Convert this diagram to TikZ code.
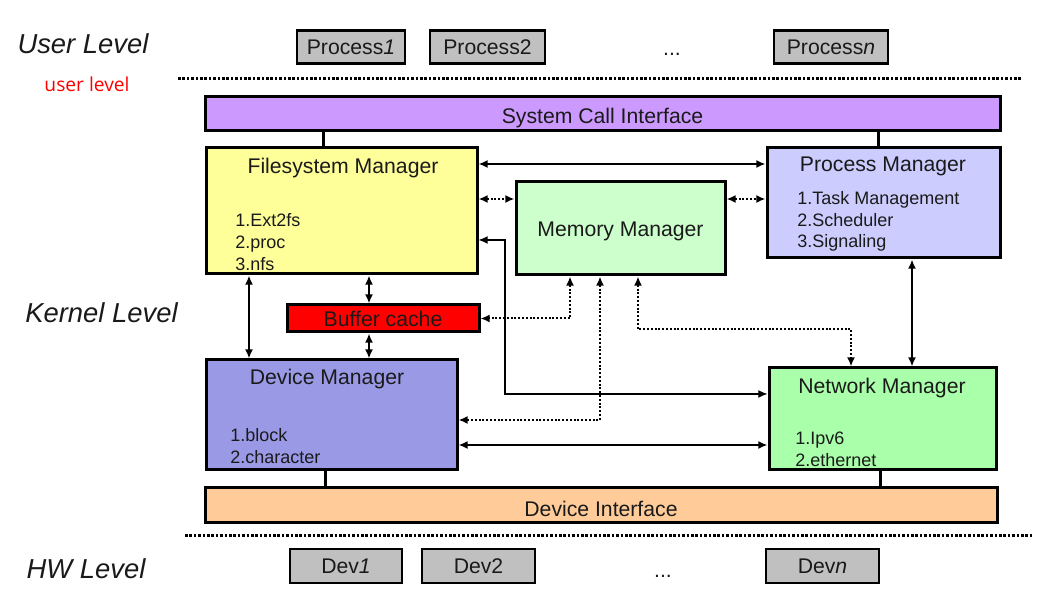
\documentclass[tikz,border=0pt]{standalone}
\usepackage{fontspec}
\setmainfont{Liberation Sans}
\newfontfamily\redfont{Open Sans}
\usetikzlibrary{arrows.meta}
\definecolor{sciC}{HTML}{CC99FF}
\definecolor{fmC}{HTML}{FFFF99}
\definecolor{mmC}{HTML}{CCFFCC}
\definecolor{pmC}{HTML}{CCCCFF}
\definecolor{bcC}{HTML}{FF0000}
\definecolor{dmC}{HTML}{9999E6}
\definecolor{nmC}{HTML}{AAFFAA}
\definecolor{diC}{HTML}{FFCC99}
\definecolor{grayC}{HTML}{C0C0C0}
\definecolor{txtC}{HTML}{1A1A1A}
\begin{document}
\begin{tikzpicture}[x=0.5pt,y=-0.5pt,
  every node/.style={text=txtC},
  box/.style={draw=black, line width=1.5pt, inner sep=0pt, text height=9.2pt, text depth=0pt, font=\fontsize{10.6}{12}\selectfont},
  gbox/.style={box, fill=grayC, line width=1.2pt, minimum height=16.5pt, text height=7.6pt},
  title/.style={font=\fontsize{10.6}{12}\selectfont, inner sep=0pt, yshift=-1.2pt},
  items/.style={font=\fontsize{9}{11}\selectfont, align=left, anchor=west, inner sep=0pt, yshift=-1pt},
  level/.style={font=\fontsize{13.7}{16}\selectfont\itshape, inner sep=0pt},
  bi/.style={{Latex[length=4.6pt,width=4pt]}-{Latex[length=4.6pt,width=4pt]}, line width=0.9pt},
  thinbi/.style={bi, line width=0.6pt},
  dotbi/.style={bi, line width=1pt, dash pattern=on 1pt off 0.9pt},
  sep/.style={line width=1.5pt, dash pattern=on 1.3pt off 0.9pt},
  link/.style={line width=1.5pt}
]
\useasboundingbox (0,0) rectangle (1040,592);

% level labels
\node[level] (ul) at (83,44) {User Level};
\node[font=\redfont\fontsize{9.6}{12}\selectfont, text=red, inner sep=0pt] (ulr) at (87,84) {user level};
\node[level] (kl) at (101.5,313) {Kernel Level};
\node[level] (hl) at (86,569) {HW Level};

% separators
\coordinate (s1a) at (178,79); \coordinate (s1b) at (1022,79);
\coordinate (s2a) at (185,536); \coordinate (s2b) at (1032,536);
\draw[sep] (s1a) -- (s1b);
\draw[sep] (s2a) -- (s2b);

% processes
\node[gbox, minimum width=54pt] (p1) at (351,47) {Process\textit{1}};
\node[gbox, minimum width=57.5pt] (p2) at (487.5,47) {Process2};
\node[title] (pdots) at (672,52) {...};
\node[gbox, minimum width=57pt] (pn) at (831,47) {Process\textit{n}};

% system call interface
\node[box, fill=sciC, minimum width=397.5pt, minimum height=17pt] (sci) at (602.5,114) {System Call Interface};

% filesystem manager
\node[box, fill=fmC, minimum width=135.5pt, minimum height=63pt] (fm) at (341.5,211) {};
\node[title] (fmt) at (343,166) {Filesystem Manager};
\node[items] (fmi) at (235,240) {1.Ext2fs\\2.proc\\3.nfs};

% memory manager
\node[box, fill=mmC, minimum width=104.5pt, minimum height=46.5pt, text height=7.6pt] (mm) at (620.5,228.5) {Memory Manager};

% process manager
\node[box, fill=pmC, minimum width=116.5pt, minimum height=55pt] (pm) at (883.5,203) {};
\node[title] (pmt) at (883,164) {Process Manager};
\node[items, font=\fontsize{9}{10.7}\selectfont] (pmi) at (797,219.5) {1.Task Management\\2.Scheduler\\3.Signaling};

% buffer cache
\node[box, fill=bcC, minimum width=96pt, minimum height=13.5pt, text height=8pt] (bc) at (383,318.5) {Buffer cache};

% device manager
\node[box, fill=dmC, minimum width=125.5pt, minimum height=55pt] (dm) at (331.5,415) {};
\node[title] (dmt) at (327,377) {Device Manager};
\node[items] (dmi) at (230,444) {1.block\\2.character};

% network manager
\node[box, fill=nmC, minimum width=113.5pt, minimum height=51pt] (nm) at (882.5,419) {};
\node[title] (nmt) at (882,386) {Network Manager};
\node[items] (nmi) at (795,447) {1.Ipv6\\2.ethernet};

% device interface
\node[box, fill=diC, minimum width=396pt, minimum height=17.5pt, text height=10.6pt] (di) at (601,505.5) {Device Interface};

% devices
\node[gbox, minimum width=56pt, minimum height=17pt] (d1) at (346,566) {Dev\textit{1}};
\node[gbox, minimum width=56.5pt, minimum height=17pt] (d2) at (478.5,566) {Dev2};
\node[title] (ddots) at (663,574) {...};
\node[gbox, minimum width=56.5pt, minimum height=17pt] (dn) at (822.5,566) {Dev\textit{n}};

% vertical links to interfaces
\coordinate (x323) at (323,0); \coordinate (x878) at (878,0);
\coordinate (x325) at (325,0); \coordinate (x880) at (880,0);
\draw[link] (sci.south -| x323) -- (fm.north -| x323);
\draw[link] (sci.south -| x878) -- (pm.north -| x878);
\draw[link] (dm.south -| x325) -- (di.north -| x325);
\draw[link] (nm.south -| x880) -- (di.north -| x880);

% connectors
\coordinate (y164) at (0,164);
\draw[bi] (fm.east |- y164) -- (pm.west |- y164);
\coordinate (yA) at (0,199);
\draw[dotbi] (fm.east |- yA) -- (mm.west |- yA);
\draw[dotbi] (mm.east |- yA) -- (pm.west |- yA);

\coordinate (yB) at (0,240);
\coordinate (c4) at (505,394);
\draw[thinbi] (fm.east |- yB) -| (c4) -- (nm.west |- c4);

\coordinate (c5) at (600,420);
\draw[dotbi] (mm.south -| c5) -- (c5) -- (dm.east |- c5);

\coordinate (yC) at (0,445);
\draw[bi] (dm.east |- yC) -- (nm.west |- yC);

\coordinate (c7) at (570,318.5);
\draw[dotbi] (mm.south -| c7) -- (c7) -- (bc.east);

\coordinate (c8a) at (638,329); \coordinate (c8b) at (851,329);
\draw[dotbi] (mm.south -| c8a) -- (c8a) -- (c8b) -- (nm.north -| c8b);

\coordinate (x912) at (912,0);
\draw[bi] (pm.south -| x912) -- (nm.north -| x912);

\coordinate (x249) at (249,0);
\draw[bi] (fm.south -| x249) -- (dm.north -| x249);

\coordinate (x369) at (369,0);
\draw[bi] (fm.south -| x369) -- (bc.north -| x369);
\draw[bi] (bc.south -| x369) -- (dm.north -| x369);
\end{tikzpicture}
\end{document}
